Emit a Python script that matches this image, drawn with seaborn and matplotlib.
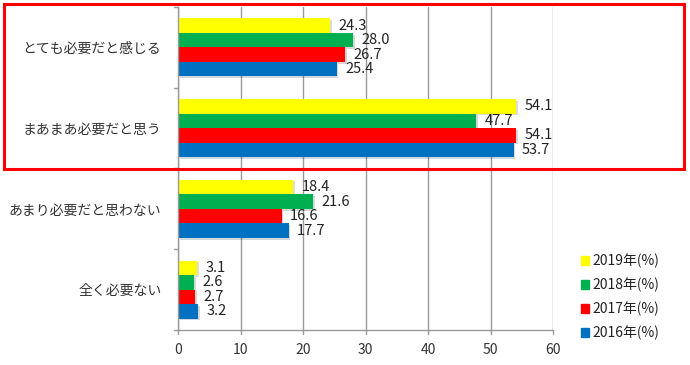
import matplotlib
matplotlib.use("Agg")
import matplotlib.pyplot as plt
import matplotlib.patches as mpatches
import matplotlib.patheffects as pe
import seaborn as sns
import pandas as pd

categories = ["とても必要だと感じる", "まあまあ必要だと思う", "あまり必要だと思わない", "全く必要ない"]
series = ["2019年(%)", "2018年(%)", "2017年(%)", "2016年(%)"]
v2019 = [24.3, 54.1, 18.4, 3.1]
v2018 = [28.0, 47.7, 21.6, 2.6]
v2017 = [26.7, 54.1, 16.6, 2.7]
v2016 = [25.4, 53.7, 17.7, 3.2]
colors = ["#FFFF00", "#00B050", "#FF0000", "#0070C0"]
xticks = [0, 10, 20, 30, 40, 50, 60]

rows = []
for s, vals in zip(series, [v2019, v2018, v2017, v2016]):
    for c, v in zip(categories, vals):
        rows.append({"category": c, "series": s, "value": v})
df = pd.DataFrame(rows)

sns.set_theme(style="white")
plt.rcParams['font.family'] = ['Noto Sans CJK JP', 'DejaVu Sans']

fig = plt.figure(figsize=(6.9, 3.65), dpi=100)
ax = fig.add_axes([178/690, 1-330/365, 375/690, 323/365])

sns.barplot(data=df, y="category", x="value", hue="series", order=categories,
            hue_order=series, palette=colors, orient="h", ax=ax, width=0.72,
            saturation=1, legend=False, linewidth=0)

for p in ax.patches:
    p.set_path_effects([pe.SimplePatchShadow(offset=(1.2, -1.2), alpha=0.18), pe.Normal()])

for cont in ax.containers:
    labels = [f"{v:.1f}" for v in cont.datavalues]
    ax.bar_label(cont, labels=labels, padding=6, fontsize=10.5, color="#222222")

ax.set_xlim(0, 60)
ax.set_ylim(3.5, -0.5)
ax.set_xticks(xticks)
ax.set_xticklabels([str(t) for t in xticks], fontsize=10, color="#333333")
ax.set_yticks(range(len(categories)))
ax.set_yticklabels(categories, fontsize=10, color="#333333")
ax.tick_params(axis="y", length=0, pad=12)
ax.tick_params(axis="x", length=0, pad=9)
for yb in [-0.5, 0.5, 1.5, 2.5, 3.5]:
    ax.plot([-0.012, 0], [yb, yb], transform=ax.get_yaxis_transform(), color="#999999",
            lw=1, clip_on=False)
for xt in xticks:
    ax.plot([xt, xt], [0, -0.012], transform=ax.get_xaxis_transform(), color="#999999",
            lw=1, clip_on=False)
ax.set_xlabel("")
ax.set_ylabel("")
ax.grid(axis="x", color="#999999", lw=1)
ax.set_axisbelow(True)
for sp in ["top", "right"]:
    ax.spines[sp].set_visible(False)
for sp in ["left", "bottom"]:
    ax.spines[sp].set_color("#999999")
    ax.spines[sp].set_linewidth(1)

handles = [mpatches.Patch(color=c, label=s) for c, s in zip(colors, series)]
leg = fig.legend(handles=handles, loc="upper left", bbox_to_anchor=(574/690, 1-247/365),
                 frameon=False, fontsize=10, handlelength=0.6, handleheight=0.6,
                 handletextpad=0.2, labelspacing=0.68, borderpad=0)
for t in leg.get_texts():
    t.set_color("#222222")

rect = mpatches.Rectangle((4/690, 1-169/365), 680/690, 165/365, transform=fig.transFigure,
                          fill=False, edgecolor="#FF0000", lw=2.2)
fig.patches.append(rect)

fig.savefig("out.png", dpi=100)
